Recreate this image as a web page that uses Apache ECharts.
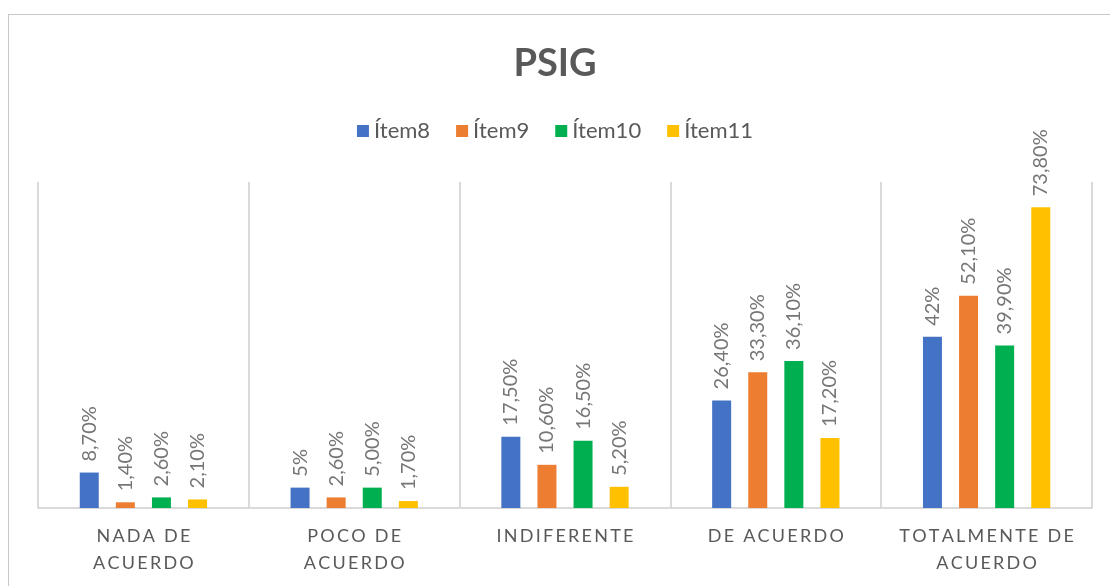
<!DOCTYPE html>
<html>
<head>
<meta charset="utf-8">
<title>PSIG</title>
<script src="https://cdn.jsdelivr.net/npm/echarts@6/dist/echarts.min.js"></script>
<style>
  html, body { margin: 0; padding: 0; background: #fff; overflow: hidden; }
  #frame { position: absolute; left: 8px; top: 14px; width: 1200px; height: 700px; border: 1px solid #c8c8c8; }
  #chart { position: absolute; left: 0; top: 0; width: 1110px; height: 586px; }
</style>
</head>
<body>
<div id="frame"></div>
<div id="chart"></div>
<script>
// data
const categories = ['NADA DE\nACUERDO', 'POCO DE\nACUERDO', 'INDIFERENTE', 'DE ACUERDO', 'TOTALMENTE DE\nACUERDO']
const seriesNames = ['Ítem8', 'Ítem9', 'Ítem10', 'Ítem11']
const item8 = [8.7, 5, 17.5, 26.4, 42]
const item9 = [1.4, 2.6, 10.6, 33.3, 52.1]
const item10 = [2.6, 5.0, 16.5, 36.1, 39.9]
const item11 = [2.1, 1.7, 5.2, 17.2, 73.8]
const item8Labels = ['8,70%', '5%', '17,50%', '26,40%', '42%']
const item9Labels = ['1,40%', '2,60%', '10,60%', '33,30%', '52,10%']
const item10Labels = ['2,60%', '5,00%', '16,50%', '36,10%', '39,90%']
const item11Labels = ['2,10%', '1,70%', '5,20%', '17,20%', '73,80%']

const colors = ['#4472C4', '#ED7D31', '#00B050', '#FFC000']
const font = 'Lato, "Open Sans", sans-serif'

// spread letters like the original axis labels
function spaced(s) {
  return s.split('\n').map(function (line) { return line.split('').join('\u2009') }).join('\n')
}

function makeSeries(name, values, labels, color) {
  return {
    name: name,
    type: 'bar',
    data: values,
    barWidth: 19,
    barGap: '90%',
    itemStyle: { color: color },
    label: {
      show: true,
      position: 'top',
      rotate: 90,
      align: 'left',
      verticalAlign: 'middle',
      distance: 9,
      offset: [2, 0],
      color: '#767676',
      fontSize: 20,
      fontFamily: font,
      formatter: function (p) { return labels[p.dataIndex] }
    }
  }
}

const chart = echarts.init(document.getElementById('chart'), null, { renderer: 'canvas' })
chart.setOption({
  backgroundColor: 'transparent',
  animation: false,
  title: {
    text: 'PSIG',
    left: 'center',
    top: 40,
    textStyle: { fontSize: 38, fontWeight: 'bold', color: '#595959', fontFamily: font }
  },
  legend: {
    data: seriesNames,
    top: 115,
    left: 'center',
    icon: 'rect',
    itemWidth: 12,
    itemHeight: 12,
    itemGap: 26,
    textStyle: { fontSize: 22, color: '#595959', fontFamily: font }
  },
  grid: { left: 38, right: 18, top: 182, bottom: 78, containLabel: false },
  xAxis: {
    type: 'category',
    data: categories,
    axisTick: { show: false },
    axisLine: { lineStyle: { color: '#d9d9d9', width: 2 } },
    splitLine: { show: true, lineStyle: { color: '#d9d9d9', width: 2 } },
    axisLabel: {
      interval: 0,
      margin: 15,
      fontSize: 18,
      lineHeight: 27,
      color: '#595959',
      fontFamily: font,
      formatter: spaced
    }
  },
  yAxis: {
    type: 'value',
    min: 0,
    max: 80,
    show: false
  },
  series: [
    makeSeries(seriesNames[0], item8, item8Labels, colors[0]),
    makeSeries(seriesNames[1], item9, item9Labels, colors[1]),
    makeSeries(seriesNames[2], item10, item10Labels, colors[2]),
    makeSeries(seriesNames[3], item11, item11Labels, colors[3])
  ]
})
</script>
</body>
</html>
